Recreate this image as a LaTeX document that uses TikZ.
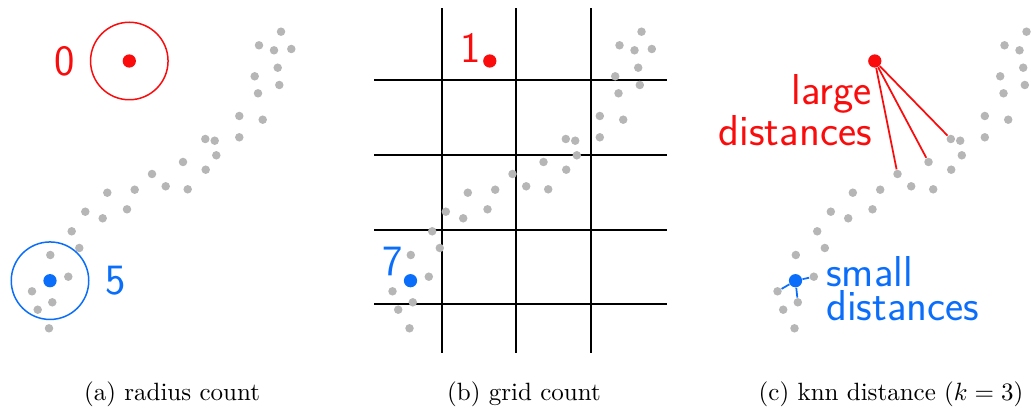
\documentclass[tikz,border=0pt]{standalone}
\usepackage{tikz}
\usetikzlibrary{positioning}
\definecolor{hotred}{RGB}{250,12,12}
\definecolor{coolblue}{RGB}{10,110,250}
\definecolor{ptgray}{RGB}{182,182,182}
\tikzset{
  gpt/.style={circle,fill=ptgray,inner sep=0pt,minimum size=3.4pt},
  rvtx/.style={circle,fill=hotred,inner sep=0pt,minimum size=5.3pt},
  bvtx/.style={circle,fill=coolblue,inner sep=0pt,minimum size=5.3pt},
  rad/.style={circle,draw,line width=0.6pt,inner sep=0pt,minimum size=31pt},
  gline/.style={line width=0.75pt},
  nnline/.style={line width=0.7pt},
  dlab/.style={font=\sffamily\fontsize{17.3}{13.7}\selectfont,inner sep=0pt},
  clab/.style={font=\fontsize{10}{12}\selectfont,anchor=base}
}
\newcommand\pointcloud[1]{%
  \foreach \px/\py [count=\k] in {281/31.7,259/45.3,274/50.3,291.3/49,277.7/67.7,254.7/76.3,279.3/85,258/93.3,
      239.3/116,262.7/119.7,205.3/139,214.7/140.7,239.3/137.3,216.3/155.3,183/162,205.7/169.7,152/174,
      165.7/186.3,187.7/189.3,107.3/192.7,134.7/189.7,85.3/211.7,102.7/218.3,127/209.3,71.7/231.3,
      79.3/248,50.3/255,68.3/276.7,32/291.3,52.3/302.3,37.7/309.7,49/328.3}
    \node[gpt] (#1\k) at (\px,\py) {};}

\begin{document}
\begin{tikzpicture}[x=0.4pt,y=-0.4pt]
  \useasboundingbox (0,0) rectangle (1031,412);
  % (a) radius count
  \pointcloud{a}
  \node[rvtx] (ar) at (129.3,61) {};
  \node[rad,draw=hotred] (arad) at (ar) {};
  \node[dlab,text=hotred,left=5.6pt of arad] (acnt) {0};
  \node[bvtx] (ab) at (50,280.7) {};
  \node[rad,draw=coolblue] (abrad) at (ab) {};
  \node[dlab,text=coolblue,right=6pt of abrad] (bcnt) {5};
  % (b) grid count
  \begin{scope}[shift={(360.5,0)}]
    \foreach \gx in {81.2,155.5,230.2} \draw[gline] (\gx,8.3) -- (\gx,353);
    \foreach \gy in {80,154.7,229.7,304.3} \draw[gline] (13.8,\gy) -- (306.2,\gy);
    \pointcloud{b}
    \node[rvtx] (br) at (129.3,61) {};
    \node[dlab,text=hotred,left=0.6pt of br,yshift=5.1pt] (rcnt) {1};
    \node[bvtx] (bb) at (50,280.7) {};
    \node[dlab,text=coolblue,left=0pt of bb,yshift=7.6pt] (gcnt) {7};
  \end{scope}
  % (c) knn distance
  \begin{scope}[shift={(745.5,0)}]
    \pointcloud{c}
    \node[rvtx] (cr) at (129.3,61) {};
    \node[bvtx] (cb) at (50,280.7) {};
    \foreach \n in {11,15,17} \draw[nnline,hotred] (cr) -- (c\n);
    \foreach \n in {28,29,30} \draw[nnline,coolblue] (cb) -- (c\n);
    \node[dlab,text=hotred,align=right,below=2.3pt of cr,anchor=north east,xshift=-1pt] (large) {large\\distances};
    \node[dlab,text=coolblue,align=left,right=9.3pt of cb,yshift=-3.2pt] (small) {small\\distances};
  \end{scope}
  \node[clab] (capa) at (172,400) {(a) radius count};
  \node[clab] (capb) at (524,400) {(b) grid count};
  \node[clab] (capc) at (891,400) {(c) knn distance ($k=3$)};
\end{tikzpicture}
\end{document}
